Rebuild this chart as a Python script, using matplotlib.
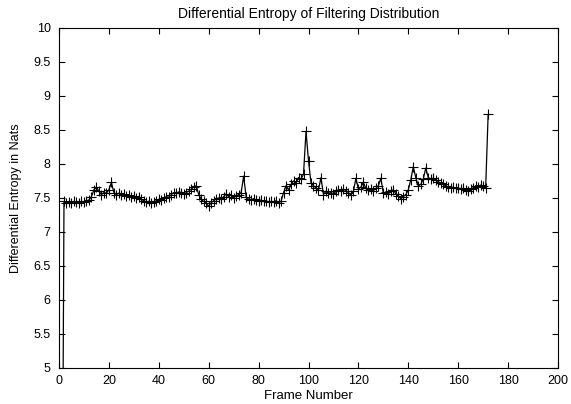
import numpy as np
import matplotlib
matplotlib.use("Agg")
import matplotlib.pyplot as plt

plt.rcParams['font.family'] = ['Liberation Sans', 'DejaVu Sans']

title = "Differential Entropy of Filtering Distribution"
xlabel = "Frame Number"
ylabel = "Differential Entropy in Nats"

entropy = [
    0.0,
    7.45, 7.42, 7.44, 7.43, 7.45, 7.44, 7.42, 7.45, 7.44, 7.46, 7.47,   # 2-12
    7.52, 7.62, 7.66, 7.60, 7.55, 7.58, 7.57, 7.62, 7.73, 7.58,         # 13-22
    7.55, 7.57, 7.54, 7.56, 7.53, 7.55, 7.52, 7.53, 7.50, 7.51,         # 23-32
    7.48, 7.46, 7.44, 7.45, 7.43, 7.44, 7.46, 7.48, 7.47, 7.50,         # 33-42
    7.52, 7.51, 7.55, 7.58, 7.57, 7.59, 7.58, 7.56, 7.58, 7.60,         # 43-52
    7.63, 7.66, 7.68, 7.55, 7.48, 7.45, 7.42, 7.38, 7.43, 7.46,         # 53-62
    7.49, 7.50, 7.48, 7.52, 7.56, 7.52, 7.55, 7.50, 7.53, 7.55,         # 63-72
    7.58, 7.82, 7.52, 7.48, 7.47, 7.49, 7.47, 7.46, 7.47, 7.45,         # 73-82
    7.46, 7.44, 7.45, 7.44, 7.46, 7.43, 7.45, 7.58, 7.68, 7.62,         # 83-92
    7.70, 7.75, 7.72, 7.80, 7.78, 7.85, 8.48, 8.05, 7.72, 7.68,         # 93-102
    7.65, 7.62, 7.80, 7.55, 7.60, 7.57, 7.58, 7.56, 7.60, 7.62,         # 103-112
    7.60, 7.63, 7.61, 7.58, 7.54, 7.60, 7.79, 7.63, 7.66, 7.73,         # 113-122
    7.64, 7.62, 7.63, 7.61, 7.64, 7.68, 7.79, 7.57, 7.59, 7.56,         # 123-132
    7.60, 7.62, 7.56, 7.53, 7.49, 7.52, 7.55, 7.62, 7.77, 7.96,         # 133-142
    7.80, 7.68, 7.70, 7.78, 7.94, 7.80, 7.78, 7.79, 7.76, 7.74,         # 143-152
    7.72, 7.70, 7.68, 7.66, 7.65, 7.66, 7.64, 7.65, 7.63, 7.64,         # 153-162
    7.62, 7.60, 7.63, 7.65, 7.68, 7.66, 7.69, 7.67, 7.64, 8.73,         # 163-172
]
frames = np.arange(1, len(entropy) + 1)

xticks = [0, 20, 40, 60, 80, 100, 120, 140, 160, 180, 200]
yticks = [5, 5.5, 6, 6.5, 7, 7.5, 8, 8.5, 9, 9.5, 10]
yticklabels = ["5", "5.5", "6", "6.5", "7", "7.5", "8", "8.5", "9", "9.5", "10"]

fig = plt.figure(figsize=(5.71, 4.04), dpi=100)
ax = fig.add_axes([59/571, 1 - 368/404, (558 - 59)/571, (368 - 28)/404])
ax.plot(frames, entropy, color='black', linewidth=0.9, marker='+',
        markersize=7, markeredgewidth=0.8, clip_on=True)
ax.set_xlim(0, 200)
ax.set_ylim(5, 10)
ax.set_xticks(xticks)
ax.set_yticks(yticks)
ax.set_yticklabels(yticklabels)
ax.tick_params(direction='in', length=4, width=0.8, top=True, right=True,
               labelsize=9)
ax.tick_params(axis='y', pad=6)
ax.tick_params(axis='x', pad=5)
for s in ax.spines.values():
    s.set_linewidth(0.8)
ax.set_title(title, fontsize=10, pad=7)
ax.set_xlabel(xlabel, fontsize=9.5, labelpad=2)
ax.set_ylabel(ylabel, fontsize=9, labelpad=8)

fig.savefig("out.png", dpi=100)
